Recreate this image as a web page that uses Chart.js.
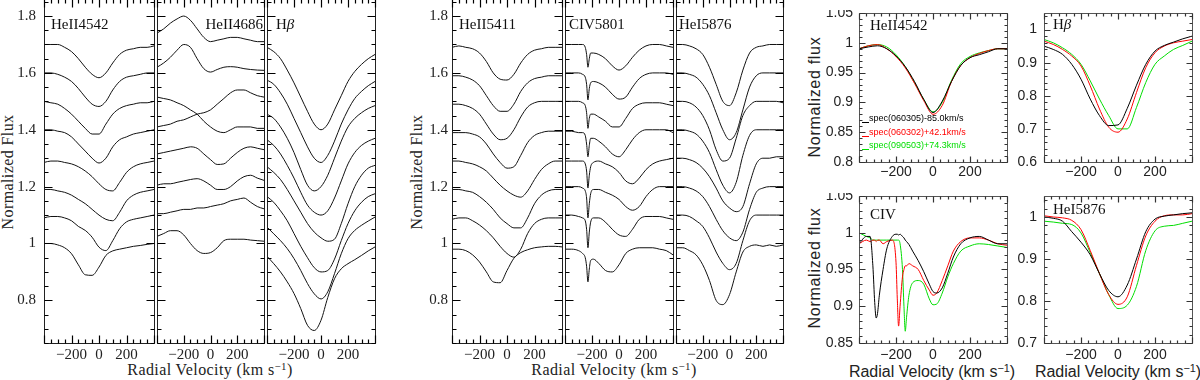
<!DOCTYPE html>
<html><head><meta charset="utf-8">
<script src="https://cdn.jsdelivr.net/npm/chart.js@4.4.1/dist/chart.umd.min.js"></script>
<style>
html,body{margin:0;padding:0;background:#fff;}
body{width:1200px;height:380px;position:relative;overflow:hidden;}
canvas{position:absolute;}
.t{position:absolute;white-space:nowrap;color:#222;transform:translate(-50%,-50%);line-height:1;}
.serif{font-family:"Liberation Serif","Times New Roman",serif;font-size:16px;letter-spacing:0.4px;}
.sans{font-family:"Liberation Sans",Arial,sans-serif;font-size:16px;}
.rot{transform:translate(-50%,-50%) rotate(-90deg);}
sup{font-size:0.68em;vertical-align:0.5em;line-height:0;}
</style></head><body>
<div class="t serif rot" style="left:8px;top:172px">Normalized Flux</div>
<div class="t serif rot" style="left:417px;top:172px">Normalized Flux</div>
<div class="t serif" style="left:210px;top:370px">Radial Velocity (km s<sup>−1</sup>)</div>
<div class="t serif" style="left:614px;top:370px">Radial Velocity (km s<sup>−1</sup>)</div>
<div class="t sans rot" style="left:815px;top:97px;letter-spacing:0.7px">Normalized flux</div>
<div class="t sans rot" style="left:815px;top:268px;letter-spacing:0.7px">Normalized flux</div>
<div class="t sans" style="left:932px;top:372px">Radial Velocity (km s<sup>−1</sup>)</div>
<div class="t sans" style="left:1118px;top:372px">Radial Velocity (km s<sup>−1</sup>)</div>
<script>
// ---------------- DATA ----------------
// velocity grids (km/s)
const V50 = [-400,-350,-300,-250,-200,-150,-100,-50,0,50,100,150,200,250,300,350,400];
const V_CIV5801 = [-400,-350,-300,-270,-250,-240,-230,-220,-210,-190,-150,-100,-50,0,50,100,150,200,250,300,350,400];
const V_CIVcmp = [-400,-360,-340,-325,-315,-307,-300,-290,-270,-250,-220,-200,-193,-186,-178,-165,-157,-150,-143,-130,-110,-80,-50,-20,0,20,50,80,110,150,200,250,300,350,400];

// tick labels
const stackXLabels = [-200, 0, 200];
const stackYLabels = [0.8, 1, 1.2, 1.4, 1.6, 1.8];
const cmpXLabels = [-200, 0, 200];
const yLabelsHeII4542 = [0.8, 0.85, 0.9, 0.95, 1, 1.05];
const yLabelsHbeta = [0.6, 0.7, 0.8, 0.9, 1];
const yLabelsCIV = [0.85, 0.9, 0.95, 1, 1.05];
const yLabelsHeI5876 = [0.7, 0.8, 0.9, 1];

// stacked spectra (offset by 0.1 each)
const fluxHeII4542 = [
 [1.70,1.70,1.70,1.69,1.675,1.65,1.62,1.595,1.583,1.60,1.635,1.665,1.68,1.685,1.69,1.69,1.695],
 [1.60,1.60,1.595,1.585,1.57,1.545,1.515,1.49,1.482,1.50,1.54,1.57,1.585,1.59,1.595,1.60,1.60],
 [1.50,1.495,1.49,1.475,1.455,1.43,1.405,1.385,1.385,1.42,1.455,1.475,1.485,1.49,1.495,1.495,1.50],
 [1.40,1.40,1.395,1.39,1.375,1.35,1.325,1.30,1.283,1.30,1.34,1.365,1.375,1.385,1.39,1.395,1.40],
 [1.285,1.29,1.29,1.285,1.28,1.27,1.255,1.235,1.21,1.19,1.185,1.215,1.25,1.27,1.28,1.285,1.29],
 [1.19,1.19,1.185,1.18,1.17,1.155,1.14,1.12,1.10,1.085,1.08,1.11,1.15,1.17,1.18,1.185,1.19],
 [1.09,1.095,1.095,1.09,1.08,1.06,1.046,1.022,0.987,0.975,1.01,1.052,1.076,1.085,1.09,1.095,1.10],
 [1.00,1.00,0.995,0.985,0.964,0.925,0.89,0.888,0.917,0.958,0.974,0.98,0.985,0.99,0.993,0.997,1.00]
];
const fluxHeII4686 = [
 [1.74,1.755,1.775,1.79,1.80,1.785,1.755,1.725,1.71,1.715,1.72,1.725,1.725,1.72,1.715,1.71,1.71],
 [1.62,1.635,1.655,1.68,1.70,1.69,1.65,1.615,1.603,1.612,1.62,1.622,1.62,1.615,1.612,1.61,1.609],
 [1.515,1.51,1.505,1.495,1.485,1.47,1.455,1.43,1.41,1.395,1.39,1.40,1.41,1.41,1.41,1.405,1.405],
 [1.41,1.415,1.42,1.43,1.435,1.445,1.455,1.46,1.47,1.49,1.51,1.53,1.54,1.54,1.53,1.52,1.515],
 [1.315,1.32,1.325,1.33,1.335,1.34,1.335,1.315,1.295,1.278,1.28,1.30,1.32,1.335,1.34,1.335,1.33],
 [1.205,1.21,1.21,1.215,1.22,1.225,1.228,1.22,1.205,1.19,1.19,1.20,1.22,1.235,1.24,1.23,1.222],
 [1.105,1.105,1.11,1.115,1.12,1.12,1.125,1.125,1.13,1.135,1.14,1.15,1.155,1.16,1.145,1.13,1.122],
 [1.025,1.035,1.045,1.045,1.03,1.00,0.975,0.965,0.968,0.985,1.01,1.015,1.015,1.015,1.012,1.01,1.008]
];
const fluxHbeta = [
 [1.69,1.675,1.65,1.61,1.565,1.515,1.465,1.42,1.40,1.42,1.47,1.52,1.57,1.605,1.63,1.65,1.665],
 [1.575,1.56,1.53,1.49,1.44,1.39,1.34,1.30,1.285,1.31,1.36,1.42,1.47,1.51,1.535,1.555,1.57],
 [1.455,1.44,1.41,1.37,1.32,1.26,1.205,1.185,1.20,1.24,1.30,1.36,1.41,1.44,1.46,1.475,1.485],
 [1.365,1.345,1.315,1.275,1.23,1.18,1.135,1.11,1.10,1.115,1.16,1.22,1.28,1.32,1.345,1.36,1.37],
 [1.27,1.25,1.225,1.19,1.15,1.11,1.07,1.04,1.02,1.008,1.015,1.07,1.14,1.20,1.24,1.265,1.275],
 [1.165,1.145,1.115,1.08,1.035,0.99,0.95,0.915,0.90,0.905,0.945,1.01,1.07,1.115,1.145,1.165,1.175],
 [1.058,1.034,1.01,0.982,0.947,0.905,0.859,0.823,0.805,0.83,0.894,0.964,1.017,1.046,1.064,1.079,1.093],
 [0.955,0.929,0.90,0.865,0.824,0.771,0.712,0.694,0.73,0.81,0.876,0.911,0.929,0.943,0.958,0.974,0.988]
];
const fluxHeII5411 = [
 [1.69,1.695,1.69,1.685,1.67,1.64,1.60,1.578,1.575,1.595,1.635,1.665,1.68,1.685,1.69,1.69,1.69],
 [1.59,1.59,1.585,1.575,1.555,1.52,1.485,1.465,1.465,1.49,1.535,1.565,1.58,1.585,1.59,1.59,1.59],
 [1.49,1.49,1.485,1.475,1.455,1.42,1.385,1.365,1.37,1.40,1.445,1.48,1.495,1.50,1.50,1.50,1.50],
 [1.39,1.39,1.39,1.385,1.375,1.35,1.315,1.285,1.265,1.27,1.31,1.355,1.38,1.39,1.395,1.395,1.395],
 [1.29,1.29,1.285,1.28,1.27,1.255,1.23,1.205,1.185,1.17,1.163,1.185,1.225,1.26,1.28,1.29,1.29],
 [1.19,1.19,1.185,1.18,1.165,1.145,1.12,1.09,1.07,1.055,1.055,1.09,1.14,1.17,1.185,1.19,1.19],
 [1.085,1.09,1.09,1.08,1.065,1.045,1.02,0.99,0.965,0.952,0.98,1.035,1.07,1.085,1.09,1.09,1.09],
 [0.98,0.98,0.975,0.96,0.935,0.90,0.865,0.862,0.905,0.948,0.968,0.978,0.985,0.988,0.99,0.99,0.988]
];
const fluxCIV5801 = [
 [1.70,1.70,1.70,1.70,1.69,1.665,1.62,1.65,1.67,1.67,1.665,1.65,1.625,1.61,1.625,1.655,1.68,1.695,1.70,1.70,1.695,1.69],
 [1.60,1.60,1.60,1.595,1.585,1.56,1.505,1.545,1.565,1.57,1.565,1.55,1.525,1.508,1.515,1.55,1.58,1.595,1.60,1.60,1.60,1.595],
 [1.50,1.50,1.50,1.495,1.485,1.46,1.405,1.44,1.455,1.455,1.445,1.43,1.41,1.41,1.44,1.475,1.49,1.495,1.495,1.495,1.49,1.485],
 [1.395,1.395,1.39,1.39,1.38,1.35,1.305,1.345,1.37,1.37,1.36,1.34,1.315,1.305,1.33,1.365,1.39,1.40,1.40,1.40,1.40,1.39],
 [1.29,1.29,1.29,1.29,1.28,1.255,1.195,1.24,1.27,1.285,1.29,1.28,1.27,1.25,1.22,1.21,1.23,1.26,1.28,1.29,1.295,1.30],
 [1.20,1.20,1.20,1.195,1.185,1.16,1.09,1.14,1.175,1.19,1.19,1.18,1.17,1.155,1.13,1.117,1.13,1.165,1.19,1.20,1.20,1.20],
 [1.10,1.10,1.095,1.09,1.08,1.05,0.985,1.04,1.075,1.09,1.09,1.075,1.05,1.03,1.025,1.05,1.085,1.095,1.095,1.095,1.09,1.085],
 [0.98,0.98,0.975,0.965,0.95,0.92,0.865,0.91,0.94,0.945,0.93,0.905,0.90,0.925,0.965,0.98,0.985,0.985,0.985,0.98,0.975,0.96]
];
const fluxHeI5876 = [
 [1.70,1.70,1.695,1.685,1.665,1.62,1.56,1.50,1.485,1.53,1.61,1.67,1.69,1.695,1.70,1.70,1.70],
 [1.60,1.60,1.595,1.585,1.56,1.52,1.46,1.40,1.365,1.39,1.47,1.55,1.59,1.60,1.60,1.60,1.60],
 [1.50,1.50,1.495,1.48,1.45,1.40,1.33,1.29,1.30,1.37,1.45,1.485,1.50,1.50,1.50,1.50,1.495],
 [1.40,1.40,1.395,1.385,1.36,1.32,1.26,1.205,1.178,1.215,1.31,1.38,1.40,1.40,1.40,1.40,1.40],
 [1.30,1.30,1.295,1.285,1.265,1.235,1.195,1.15,1.125,1.112,1.13,1.21,1.28,1.30,1.30,1.305,1.305],
 [1.20,1.20,1.195,1.185,1.165,1.13,1.085,1.045,1.02,1.01,1.04,1.12,1.18,1.195,1.20,1.20,1.20],
 [1.10,1.10,1.095,1.08,1.06,1.02,0.97,0.93,0.908,0.93,1.01,1.08,1.10,1.10,1.10,1.10,1.10],
 [0.985,0.985,0.975,0.96,0.925,0.87,0.80,0.785,0.82,0.90,0.97,0.99,0.995,0.99,0.995,0.99,0.995]
];

// comparison spectra: [spec(060305), spec(060302), spec(090503)]
const cmpNames = ['spec(060305)-85.0km/s', 'spec(060302)+42.1km/s', 'spec(090503)+74.3km/s'];
const cmpHeII4542 = [
 [0.99,0.993,0.995,0.99,0.978,0.96,0.935,0.905,0.883,0.902,0.935,0.962,0.975,0.98,0.985,0.99,0.99],
 [0.99,0.995,0.997,0.99,0.977,0.958,0.932,0.903,0.88,0.895,0.935,0.962,0.975,0.982,0.987,0.99,0.99],
 [0.99,0.995,0.997,0.993,0.98,0.96,0.933,0.905,0.884,0.90,0.937,0.965,0.977,0.983,0.987,0.99,0.99]
];
const cmpHbeta = [
 [0.95,0.94,0.925,0.895,0.85,0.79,0.74,0.71,0.712,0.762,0.832,0.895,0.935,0.952,0.962,0.972,0.98],
 [0.965,0.955,0.94,0.92,0.89,0.83,0.76,0.705,0.69,0.73,0.81,0.885,0.93,0.95,0.96,0.965,0.97],
 [0.97,0.96,0.945,0.925,0.895,0.845,0.79,0.74,0.70,0.70,0.765,0.84,0.895,0.92,0.94,0.952,0.965]
];
const cmpCIV = [
 [0.985,0.995,0.995,0.955,0.905,0.884,0.89,0.915,0.95,0.978,0.995,0.998,0.998,0.997,0.998,0.995,0.993,0.99,0.988,0.984,0.975,0.962,0.947,0.93,0.92,0.918,0.925,0.945,0.967,0.985,0.993,0.995,0.99,0.985,0.985],
 [0.985,0.99,0.988,0.99,0.99,0.988,0.99,0.99,0.985,0.988,0.99,0.96,0.91,0.873,0.90,0.94,0.95,0.955,0.955,0.958,0.955,0.95,0.935,0.922,0.915,0.918,0.935,0.955,0.975,0.988,0.993,0.993,0.99,0.985,0.983],
 [1.0,0.995,0.993,0.99,0.99,0.99,0.99,0.99,0.99,0.99,0.99,0.99,0.99,0.99,0.985,0.95,0.90,0.866,0.885,0.915,0.932,0.935,0.93,0.91,0.902,0.903,0.918,0.94,0.958,0.975,0.982,0.985,0.984,0.982,0.98]
];
const cmpHeI5876 = [
 [1.0,0.997,0.99,0.965,0.94,0.91,0.865,0.825,0.81,0.838,0.90,0.965,0.995,1.002,1.005,1.008,1.01],
 [1.003,1.0,0.998,0.992,0.97,0.92,0.865,0.815,0.792,0.81,0.885,0.955,0.99,1.003,1.005,1.005,1.008],
 [0.99,0.988,0.985,0.982,0.962,0.915,0.865,0.815,0.782,0.79,0.835,0.92,0.967,0.978,0.98,0.985,0.99]
];

// ---------------- RENDERING ----------------
const SERIF = 'Liberation Serif';
const SANS = 'Liberation Sans';
const CMP_COLORS = ['#000000', '#ff0000', '#00dd00'];

function fmtX(v) { return v < 0 ? '\u2212' + Math.abs(v) : String(v); }
function fmtY(v) { return String(parseFloat(Number(v).toFixed(2))); }
function zeroPad(s) { s.paddingLeft = 0; s.paddingRight = 0; s.paddingTop = 0; s.paddingBottom = 0; }

function tickVals(min, max, step) {
  const out = [];
  const n0 = Math.ceil(min / step - 1e-6), n1 = Math.floor(max / step + 1e-6);
  for (let n = n0; n <= n1; n++) out.push(n * step);
  return out;
}
function isMajor(v, maj) { const r = v / maj; return Math.abs(r - Math.round(r)) < 1e-6; }

function makeFramePlugin(o, texts, legend) {
  return {
    id: 'frame',
    afterDraw(chart) {
      const ctx = chart.ctx, a = chart.chartArea, xs = chart.scales.x, ys = chart.scales.y;
      const L = Math.round(a.left) + 0.5, R = Math.round(a.right) + 0.5;
      const T = Math.round(a.top) + 0.5, B = Math.round(a.bottom) + 0.5;
      ctx.save();
      ctx.globalCompositeOperation = 'source-over';
      ctx.strokeStyle = o.color; ctx.lineWidth = 1;
      // frame
      ctx.beginPath();
      ctx.moveTo(L, T); ctx.lineTo(R, T); ctx.lineTo(R, B); ctx.lineTo(L, B); ctx.closePath();
      ctx.stroke();
      // x ticks (inward, bottom and top)
      ctx.strokeStyle = o.tickColor;
      ctx.lineWidth = 1.2;
      ctx.beginPath();
      for (const v of tickVals(o.xRange[0], o.xRange[1], o.xMinor)) {
        const len = isMajor(v, o.xMajor) ? o.lenMaj : o.lenMin;
        const px = Math.round(xs.getPixelForValue(v)) + 0.5;
        ctx.moveTo(px, B); ctx.lineTo(px, B - len);
        ctx.moveTo(px, T); ctx.lineTo(px, T + len);
      }
      ctx.stroke();
      // y ticks (inward, left and right)
      ctx.beginPath();
      for (const v of tickVals(o.yRange[0], o.yRange[1], o.yMinor)) {
        const len = isMajor(v, o.yMajor) ? o.lenMaj : o.lenMin;
        const py = Math.round(ys.getPixelForValue(v)) + 0.5;
        ctx.moveTo(L, py); ctx.lineTo(L + len, py);
        ctx.moveTo(R, py); ctx.lineTo(R - len, py);
      }
      ctx.stroke();
      // panel labels
      ctx.fillStyle = '#111';
      ctx.textBaseline = 'middle';
      ctx.textAlign = 'left';
      for (const t of texts || []) {
        let w = 0;
        for (const p of t.parts) { ctx.font = (p[1] ? 'italic ' : '') + t.size + 'px "' + t.family + '"'; w += ctx.measureText(p[0]).width; }
        let cx = a.left + t.x - (t.align === 'right' ? w : 0);
        for (const p of t.parts) {
          ctx.font = (p[1] ? 'italic ' : '') + t.size + 'px "' + t.family + '"';
          ctx.fillText(p[0], cx, a.top + t.y);
          cx += ctx.measureText(p[0]).width;
        }
      }
      // legend
      if (legend) {
        ctx.font = '9px "' + SANS + '"';
        ctx.lineWidth = 1;
        legend.names.forEach((nm, i) => {
          const yy = a.top + legend.y[i];
          ctx.strokeStyle = legend.colors[i];
          ctx.beginPath();
          ctx.moveTo(a.left + 3, yy + 3.5); ctx.lineTo(a.left + 10, yy + 3.5);
          ctx.stroke();
          ctx.fillStyle = legend.colors[i];
          ctx.fillText(nm, a.left + 10, yy);
        });
      }
      ctx.restore();
    }
  };
}

function buildPanel(p) {
  const padL = p.yl ? p.padL : 3, padR = 3, padT = 3, padB = p.xl ? p.padB : 3;
  const W = p.w + padL + padR, H = p.h + padT + padB;
  const cv = document.createElement('canvas');
  cv.width = W; cv.height = H;
  cv.style.left = (p.left - padL) + 'px'; cv.style.top = (p.top - padT) + 'px';
  cv.style.width = W + 'px'; cv.style.height = H + 'px';
  document.body.appendChild(cv);
  const font = p.right ? {family: SANS, size: 14} : {family: SERIF, size: 15};
  const datasets = p.series.map((f, i) => ({
    data: p.vel.map((v, j) => ({x: v, y: f[j]})),
    borderColor: p.colors ? p.colors[i] : '#111',
    borderWidth: 1, pointRadius: 0, fill: false,
    cubicInterpolationMode: 'monotone'
  }));
  const tk = p.right
    ? {xMinor: 40, xMajor: 200, yMinor: p.yMinor, yMajor: p.yMajor, lenMaj: 6, lenMin: 3, color: '#555', tickColor: '#333'}
    : {xMinor: 50, xMajor: 200, yMinor: 0.05, yMajor: 0.2, lenMaj: 8, lenMin: 4, color: '#222', tickColor: '#000'};
  tk.xRange = p.x; tk.yRange = p.y;
  new Chart(cv, {
    type: 'line',
    data: {datasets},
    options: {
      responsive: false, animation: false, devicePixelRatio: 1, events: [],
      layout: {padding: {left: p.yl ? 0 : padL, right: padR, top: padT, bottom: p.xl ? 0 : padB}},
      plugins: {legend: {display: false}, tooltip: {enabled: false}},
      scales: {
        x: {
          type: 'linear', min: p.x[0], max: p.x[1], display: !!p.xl,
          grid: {display: false, drawTicks: false}, border: {display: false},
          ticks: {padding: p.xPad, autoSkip: false, maxRotation: 0, minRotation: 0, font, color: '#222', callback: v => fmtX(v)},
          afterBuildTicks: s => { if (p.xl) s.ticks = p.xl.map(v => ({value: v})); },
          afterFit: s => { s.height = padB; zeroPad(s); }
        },
        y: {
          type: 'linear', min: p.y[0], max: p.y[1], display: !!p.yl,
          grid: {display: false, drawTicks: false}, border: {display: false},
          ticks: {padding: p.yPad, autoSkip: false, font, color: '#222', callback: v => fmtY(v)},
          afterBuildTicks: s => { if (p.yl) s.ticks = p.yl.map(v => ({value: v})); },
          afterFit: s => { s.width = padL; zeroPad(s); }
        }
      }
    },
    plugins: [makeFramePlugin(tk, p.texts, p.legend)]
  });
}

const LT = (s) => ({parts: [[s, false]], family: SERIF, size: 15});
function lbl(s, px, py, align) { return Object.assign(LT(s), {x: px, y: py, align: align || 'left'}); }
function hb(px, py) { return {parts: [['H', false], ['\u03b2', true]], family: SERIF, size: 15, x: px, y: py, align: 'left'}; }

const SY = [0.65, 1.86], SX = [-400, 400];
const panels = [
  {left: 44, top: -1, w: 110, h: 344, x: SX, y: SY, xl: stackXLabels, yl: stackYLabels, padL: 44, padB: 24, xPad: 3, yPad: 8, vel: V50, series: fluxHeII4542, texts: [lbl('HeII4542', 7, 26)]},
  {left: 154, top: -1, w: 110, h: 344, x: SX, y: SY, xl: stackXLabels, yl: null, padB: 24, xPad: 3, vel: V50, series: fluxHeII4686, texts: [lbl('HeII4686', 106, 26, 'right')]},
  {left: 264, top: -1, w: 111, h: 344, x: SX, y: SY, xl: stackXLabels, yl: null, padB: 24, xPad: 3, vel: V50, series: fluxHbeta, texts: [hb(9, 26)]},
  {left: 452, top: -1, w: 110, h: 344, x: SX, y: SY, xl: stackXLabels, yl: stackYLabels, padL: 52, padB: 24, xPad: 3, yPad: 4, vel: V50, series: fluxHeII5411, texts: [lbl('HeII5411', 7, 26)]},
  {left: 562, top: -1, w: 111, h: 344, x: SX, y: SY, xl: stackXLabels, yl: null, padB: 24, xPad: 3, vel: V_CIV5801, series: fluxCIV5801, texts: [lbl('CIV5801', 4, 26)]},
  {left: 673, top: -1, w: 110, h: 344, x: SX, y: SY, xl: stackXLabels, yl: null, padB: 24, xPad: 3, vel: V50, series: fluxHeI5876, texts: [lbl('HeI5876', 3, 26)]},
  {right: true, left: 859, top: 13, w: 148, h: 149, x: SX, y: [0.8, 1.05], xl: cmpXLabels, yl: yLabelsHeII4542, yMinor: 0.01, yMajor: 0.05, padL: 45, padB: 20, xPad: 2, yPad: 6, vel: V50, series: cmpHeII4542, colors: CMP_COLORS, texts: [lbl('HeII4542', 11, 13)],
   legend: {names: cmpNames, colors: CMP_COLORS, y: [106, 120, 133]}},
  {right: true, left: 1044, top: 13, w: 148, h: 149, x: SX, y: [0.6, 1.05], xl: cmpXLabels, yl: yLabelsHbeta, yMinor: 0.02, yMajor: 0.1, padL: 30, padB: 20, xPad: 2, yPad: 7, vel: V50, series: cmpHbeta, colors: CMP_COLORS, texts: [hb(9, 12)]},
  {right: true, left: 859, top: 196, w: 148, h: 147, x: SX, y: [0.85, 1.05], xl: cmpXLabels, yl: yLabelsCIV, yMinor: 0.01, yMajor: 0.05, padL: 45, padB: 22, xPad: 4, yPad: 6, vel: V_CIVcmp, series: cmpCIV, colors: CMP_COLORS, texts: [lbl('CIV', 11, 19)]},
  {right: true, left: 1044, top: 196, w: 148, h: 147, x: SX, y: [0.7, 1.05], xl: cmpXLabels, yl: yLabelsHeI5876, yMinor: 0.02, yMajor: 0.1, padL: 30, padB: 22, xPad: 4, yPad: 7, vel: V50, series: cmpHeI5876, colors: CMP_COLORS, texts: [lbl('HeI5876', 9, 14)]}
];
panels.forEach(buildPanel);
</script>
</body></html>
